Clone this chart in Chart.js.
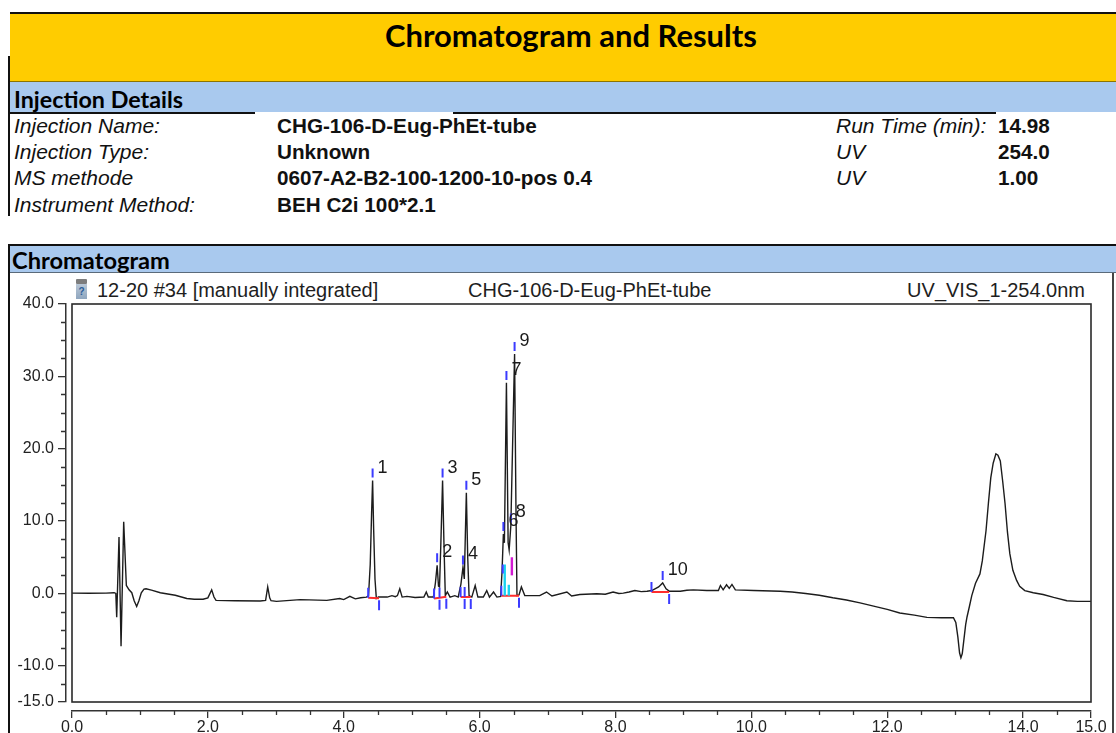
<!DOCTYPE html>
<html>
<head>
<meta charset="utf-8">
<title>Chromatogram and Results</title>
<script src="https://cdn.jsdelivr.net/npm/chart.js@4.4.1/dist/chart.umd.min.js"></script>
<style>
  html, body { margin: 0; padding: 0; background: #fff; }
  body { width: 1116px; height: 733px; position: relative; overflow: hidden;
         font-family: "Liberation Sans", Arial, sans-serif; color: #111; }
  .abs { position: absolute; }
  .txt { position: absolute; white-space: nowrap; }
  .head { font-family: Lato, "Open Sans", sans-serif; font-weight: 700; color: #000; }
  .lab { font-style: italic; font-size: 21px; line-height: 24px; }
  .val { font-weight: 700; font-size: 20.7px; line-height: 24px; }
  .ctitle { font-size: 20px; line-height: 24px; color: #1e1e1e; }
  #chartBox { position: absolute; left: 0; top: 280px; width: 1116px; height: 453px; }
</style>
</head>
<body>
  <!-- report header -->
  <div class="abs" style="left:10px;top:12px;width:1106px;height:2px;background:#111;"></div>
  <div class="abs" style="left:10px;top:14px;width:1106px;height:67px;background:#ffcc00;"></div>
  <div class="abs" style="left:10px;top:81px;width:1106px;height:1px;background:#8c7400;"></div>
  <div class="abs" style="left:10px;top:82px;width:1106px;height:30px;background:#a9c9ee;"></div>
  <div class="abs" style="left:8px;top:56px;width:2px;height:160px;background:#111;"></div>
  <div class="abs" style="left:10px;top:112px;width:245px;height:2px;background:#111;"></div>
  <div class="abs" style="left:453px;top:112px;width:543px;height:2px;background:#111;"></div>

  <div class="txt head fit" data-w="372" style="left:385px;top:19px;font-size:28px;line-height:32px;">Chromatogram and Results</div>
  <div class="txt head fit" data-w="169" style="left:14px;top:86px;font-size:21px;line-height:26px;">Injection Details</div>

  <div class="txt lab" style="left:14px;top:114px;">Injection Name:</div>
  <div class="txt lab" style="left:14px;top:140px;">Injection Type:</div>
  <div class="txt lab" style="left:14px;top:166px;">MS methode</div>
  <div class="txt lab" style="left:14px;top:193px;">Instrument Method:</div>
  <div class="txt val" style="left:277px;top:114px;">CHG-106-D-Eug-PhEt-tube</div>
  <div class="txt val" style="left:277px;top:140px;">Unknown</div>
  <div class="txt val" style="left:277px;top:166px;">0607-A2-B2-100-1200-10-pos 0.4</div>
  <div class="txt val" style="left:277px;top:193px;">BEH C2i 100*2.1</div>
  <div class="txt lab" style="left:836px;top:114px;">Run Time (min):</div>
  <div class="txt lab" style="left:836px;top:140px;">UV</div>
  <div class="txt lab" style="left:836px;top:166px;">UV</div>
  <div class="txt val" style="left:998px;top:114px;">14.98</div>
  <div class="txt val" style="left:998px;top:140px;">254.0</div>
  <div class="txt val" style="left:998px;top:166px;">1.00</div>

  <!-- chromatogram section -->
  <div class="abs" style="left:8px;top:244px;width:1108px;height:2px;background:#111;"></div>
  <div class="abs" style="left:10px;top:246px;width:1106px;height:26px;background:#a9c9ee;"></div>
  <div class="abs" style="left:10px;top:272px;width:1106px;height:1px;background:#5a6a7a;"></div>
  <div class="abs" style="left:8px;top:244px;width:2px;height:489px;background:#111;"></div>
  <div class="abs" style="left:1112px;top:273px;width:2px;height:460px;background:#444;"></div>
  <div class="txt head fit" data-w="158" style="left:12px;top:247px;font-size:21px;line-height:26px;">Chromatogram</div>

  <div class="abs" style="left:76px;top:279px;width:11px;height:20px;">
    <div style="height:5px;background:#7d7d7d;border-radius:1px;"></div>
    <div style="height:15px;background:linear-gradient(#b9c7d6,#8fa6bf);color:#2a5d9a;font:bold 10px 'Liberation Sans';text-align:center;line-height:15px;">?</div>
  </div>
  <div class="txt ctitle" style="left:97px;top:278px;">12-20 #34 [manually integrated]</div>
  <div class="txt ctitle" style="left:468px;top:278px;">CHG-106-D-Eug-PhEt-tube</div>
  <div class="txt ctitle" style="right:31px;top:278px;">UV_VIS_1-254.0nm</div>

  <div id="chartBox"><canvas id="chrom" width="1116" height="453"></canvas></div>

<script>
// Detector trace: retention time (min) and absorbance (mAU)
const retentionTimes = [
  0.00, 0.25, 0.50, 0.62, 0.645, 0.658, 0.692, 0.722, 0.761, 0.80,
  0.84, 0.88, 0.915, 0.952, 0.985, 1.02, 1.06, 1.09, 1.17, 1.30,
  1.52, 1.69, 1.80, 1.93, 2.00, 2.056, 2.09, 2.12, 2.40, 2.77,
  2.85, 2.881, 2.91, 2.93, 3.01, 3.36, 3.75, 3.94, 4.00, 4.09,
  4.17, 4.25, 4.335, 4.365, 4.39, 4.41, 4.425, 4.44, 4.46, 4.48,
  4.51, 4.64, 4.71, 4.76, 4.79, 4.825, 4.86, 4.93, 5.05, 5.18,
  5.215, 5.245, 5.32, 5.35, 5.375, 5.395, 5.41, 5.43, 5.455, 5.475,
  5.495, 5.525, 5.565, 5.635, 5.685, 5.725, 5.755, 5.775, 5.79, 5.805,
  5.825, 5.845, 5.885, 5.935, 5.975, 6.055, 6.105, 6.145, 6.205, 6.255,
  6.31, 6.33, 6.35, 6.365, 6.395, 6.42, 6.435, 6.46, 6.515, 6.535,
  6.55, 6.58, 6.615, 6.665, 6.885, 6.985, 7.065, 7.285, 7.355, 7.475,
  7.725, 7.85, 7.965, 8.05, 8.115, 8.20, 8.285, 8.38, 8.465, 8.535,
  8.635, 8.695, 8.745, 8.795, 8.955, 9.05, 9.145, 9.345, 9.515, 9.545,
  9.585, 9.635, 9.675, 9.715, 9.765, 10.035, 10.425, 10.60, 10.80, 11.00,
  11.20, 11.40, 11.60, 11.80, 12.00, 12.185, 12.40, 12.585, 12.80, 12.975,
  13.01, 13.04, 13.065, 13.085, 13.105, 13.13, 13.155, 13.175, 13.21, 13.245,
  13.30, 13.365, 13.40, 13.455, 13.49, 13.525, 13.56, 13.60, 13.63, 13.665,
  13.70, 13.735, 13.77, 13.805, 13.85, 13.905, 13.95, 14.025, 14.15, 14.295,
  14.45, 14.645, 14.80, 15.00
];
const absorbance = [
  0.05, 0.02, 0.05, 0.10, 0.00, -3.3, 7.8, -7.3, 9.9, 1.1,
  0.5, 0.1, -1.0, -1.8, -1.0, 0.1, 0.6, 0.65, 0.45, 0.1,
  -0.25, -0.7, -0.8, -0.8, -0.6, 0.5, -0.5, -0.95, -1.0, -1.05,
  -0.95, 0.9, -0.6, -1.0, -1.1, -0.85, -0.95, -0.7, -0.85, -0.4,
  -0.75, -0.6, -0.5, -0.3, 4.0, 11.0, 15.6, 9.0, 2.0, -0.7,
  -0.5, -0.5, -0.3, -0.45, -0.3, 0.65, -0.5, -0.4, -0.55, -0.5,
  0.2, -0.5, -0.5, 1.5, 3.9, 1.0, 0.9, 7.0, 15.6, 7.0,
  -0.3, 0.2, -0.5, -0.3, -0.5, 1.3, 3.6, 2.0, 8.0, 13.9,
  5.0, -0.3, -0.5, 1.1, -0.5, -0.5, 0.4, -0.5, 0.2, -0.5,
  -0.4, 3.0, 8.2, 7.0, 29.1, 7.0, 6.0, 9.4, 33.1, 12.0,
  -0.3, -0.2, 0.9, -0.3, -0.3, 0.2, -0.35, 0.2, -0.35, -0.15,
  -0.05, -0.1, 0.2, 0.0, 0.05, 0.2, 0.4, 0.25, 0.3, 0.4,
  0.9, 1.45, 0.65, 0.3, 0.3, 0.45, 0.5, 0.4, 0.4, 1.1,
  0.5, 1.2, 0.7, 1.25, 0.5, 0.4, 0.3, 0.2, 0.0, -0.25,
  -0.6, -0.9, -1.3, -1.75, -2.2, -2.7, -3.0, -3.3, -3.35, -3.35,
  -4.0, -6.0, -8.2, -8.9, -8.3, -6.3, -4.3, -3.25, -1.8, -0.3,
  1.4, 2.7, 4.5, 8.7, 12.5, 16.0, 18.0, 19.3, 19.1, 18.3,
  15.5, 12.4, 8.5, 5.5, 3.2, 1.8, 1.0, 0.4, 0.1, -0.15,
  -0.55, -1.0, -1.1, -1.1
];

// Integrated peaks
const peakNumbers     = [1, 2, 3, 4, 5, 6, 7, 8, 9, 10];
const peakApexTimes   = [4.425, 5.375, 5.455, 5.755, 5.805, 6.35, 6.395, 6.46, 6.515, 8.695];
const peakApexHeights = [15.6, 3.9, 15.6, 3.6, 13.9, 8.2, 29.1, 9.4, 33.1, 1.45];
const peakStartTimes  = [4.36, 5.33, 5.41, 5.72, 5.78, 6.32, 6.37, 6.43, 6.475, 8.53];
const peakEndTimes    = [4.52, 5.41, 5.51, 5.78, 5.87, 6.37, 6.43, 6.475, 6.58, 8.79];
const peakBaseStart   = [-0.6, -0.7, -0.6, -0.5, -0.5, -0.3, -0.3, -0.3, -0.3, 0.2];
const peakBaseEnd     = [-0.65, -0.6, -0.45, -0.5, -0.5, -0.3, -0.3, -0.3, -0.3, 0.2];
// peaks of the 6-9 cluster are separated by drop lines instead of delimiter ticks
const dropSplitPeaks  = [6, 7, 8, 9];

// Drop lines inside the 6-9 cluster
const splitTimes = [6.37, 6.43, 6.475];
const splitLow   = [-0.3, -0.3, 2.5];
const splitHigh  = [4.0, 1.2, 5.0];

// Axis ticks
const xTickValues = [0, 2, 4, 6, 8, 10, 12, 14, 15];
const yTickValues = [-15, -10, 0, 10, 20, 30, 40];
const xMinorStep = 0.5;
const yMinorStep = 2.5;

// Size the Calibri-style headings to their column widths
document.querySelectorAll('.fit').forEach(el => {
  const target = parseFloat(el.dataset.w);
  const w = el.getBoundingClientRect().width;
  const fs = parseFloat(getComputedStyle(el).fontSize);
  if (w > 0) el.style.fontSize = (fs * target / w).toFixed(2) + 'px';
});

// Detached axes: y axis sits a little left of the plot frame, x axis a little below it
const detachedAxes = {
  id: 'detachedAxes',
  afterLayout(chart) {
    const x = chart.scales.x, y = chart.scales.y;
    y.left -= 6; y.right -= 6;
    x.top += 9; x.bottom += 9;
  }
};

// Plot frame around the data area
const plotFrame = {
  id: 'plotFrame',
  afterDatasetsDraw(chart) {
    const { ctx, chartArea: a } = chart;
    ctx.save();
    ctx.strokeStyle = '#2a2a2a';
    ctx.lineWidth = 1.6;
    ctx.strokeRect(a.left, a.top, a.right - a.left, a.bottom - a.top);
    ctx.restore();
  }
};

// Short minor tick marks between the labelled ticks
const minorTicks = {
  id: 'minorTicks',
  afterDraw(chart) {
    const { ctx } = chart;
    const x = chart.scales.x, y = chart.scales.y;
    ctx.save();
    ctx.strokeStyle = '#333';
    ctx.lineWidth = 1.3;
    ctx.beginPath();
    for (let v = x.min; v <= x.max + 1e-9; v += xMinorStep) {
      if (xTickValues.some(t => Math.abs(t - v) < 1e-6)) continue;
      const px = Math.round(x.getPixelForValue(v)) + 0.5;
      ctx.moveTo(px, x.top);
      ctx.lineTo(px, x.top + 4);
    }
    for (let v = y.min; v <= y.max + 1e-9; v += yMinorStep) {
      if (yTickValues.some(t => Math.abs(t - v) < 1e-6)) continue;
      const py = Math.round(y.getPixelForValue(v)) + 0.5;
      ctx.moveTo(y.right, py);
      ctx.lineTo(y.right - 5, py);
    }
    ctx.stroke();
    ctx.restore();
  }
};

// Integration marks: baselines, drop lines, delimiters, apex ticks and peak numbers
const peakMarks = {
  id: 'peakMarks',
  afterDatasetsDraw(chart) {
    const { ctx } = chart;
    const xs = chart.scales.x, ys = chart.scales.y;
    ctx.save();
    ctx.lineCap = 'butt';

    ctx.strokeStyle = '#ff2d2d';
    ctx.lineWidth = 2;
    ctx.beginPath();
    peakNumbers.forEach((n, i) => {
      ctx.moveTo(xs.getPixelForValue(peakStartTimes[i]), ys.getPixelForValue(peakBaseStart[i]));
      ctx.lineTo(xs.getPixelForValue(peakEndTimes[i]), ys.getPixelForValue(peakBaseEnd[i]));
    });
    ctx.stroke();

    const splitColors = ['#19d2f0', '#19d2f0', '#d21ad2'];
    ctx.lineWidth = 2.4;
    splitTimes.forEach((t, i) => {
      ctx.strokeStyle = splitColors[i];
      ctx.beginPath();
      const px = xs.getPixelForValue(t);
      ctx.moveTo(px, ys.getPixelForValue(splitLow[i]));
      ctx.lineTo(px, ys.getPixelForValue(splitHigh[i]));
      ctx.stroke();
    });

    const inCluster = n => dropSplitPeaks.includes(n);
    ctx.strokeStyle = '#3b3bff';
    ctx.lineWidth = 2;
    ctx.beginPath();
    peakNumbers.forEach((n, i) => {
      const innerStart = inCluster(n) && i > 0 && inCluster(peakNumbers[i - 1]);
      const innerEnd = inCluster(n) && i < peakNumbers.length - 1 && inCluster(peakNumbers[i + 1]);
      if (!innerStart) {
        const sx = xs.getPixelForValue(peakStartTimes[i]);
        const sy = ys.getPixelForValue(peakBaseStart[i]);
        ctx.moveTo(sx, sy); ctx.lineTo(sx, sy - 10);
      }
      if (!innerEnd) {
        const ex = xs.getPixelForValue(peakEndTimes[i]);
        const ey = ys.getPixelForValue(peakBaseEnd[i]);
        ctx.moveTo(ex, ey + 2); ctx.lineTo(ex, ey + 12);
      }
      const ax = xs.getPixelForValue(peakApexTimes[i]);
      const ay = ys.getPixelForValue(peakApexHeights[i]);
      ctx.moveTo(ax, ay - 3); ctx.lineTo(ax, ay - 12);
    });
    splitTimes.forEach((t, i) => {
      if (i > 0) return;
      const px = xs.getPixelForValue(t) - 2;
      ctx.moveTo(px, ys.getPixelForValue(splitHigh[i]));
      ctx.lineTo(px, ys.getPixelForValue(splitHigh[i]) + 9);
    });
    ctx.stroke();

    ctx.fillStyle = '#1a1a1a';
    ctx.font = '18px "Liberation Sans", Arial, sans-serif';
    ctx.textBaseline = 'middle';
    ctx.textAlign = 'left';
    peakNumbers.forEach((n, i) => {
      const ax = xs.getPixelForValue(peakApexTimes[i]);
      const ay = ys.getPixelForValue(peakApexHeights[i]);
      ctx.fillText(String(n), ax + 5, ay - 13);
    });
    ctx.restore();
  }
};

const tickFont = { family: '"Liberation Sans", Arial, sans-serif', size: 16 };

new Chart(document.getElementById('chrom'), {
  type: 'line',
  data: {
    datasets: [{
      data: retentionTimes.map((t, i) => ({ x: t, y: absorbance[i] })),
      borderColor: '#1c1c1c',
      borderWidth: 1.4,
      pointRadius: 0,
      tension: 0,
      fill: false
    }]
  },
  options: {
    responsive: false,
    animation: false,
    devicePixelRatio: 1,
    events: [],
    layout: { padding: { left: 0, right: 25, top: 24, bottom: 0 } },
    plugins: { legend: { display: false }, tooltip: { enabled: false }, title: { display: false } },
    scales: {
      x: {
        type: 'linear', position: 'bottom', min: 0, max: 15,
        afterFit(s) { s.height = 31; },
        afterBuildTicks(s) { s.ticks = xTickValues.map(v => ({ value: v })); },
        ticks: { autoSkip: false, maxRotation: 0, padding: 0, color: '#222', font: tickFont,
                 callback: v => Number(v).toFixed(1) },
        grid: { drawOnChartArea: false, drawTicks: true, tickLength: 7, color: '#333', lineWidth: 1.3 },
        border: { display: true, color: '#333', width: 1.5 }
      },
      y: {
        type: 'linear', position: 'left', min: -15, max: 40,
        afterFit(s) { s.width = 72; },
        afterBuildTicks(s) { s.ticks = yTickValues.map(v => ({ value: v })); },
        ticks: { autoSkip: false, padding: 4, color: '#222', font: tickFont,
                 callback: v => Number(v).toFixed(1) },
        grid: { drawOnChartArea: false, drawTicks: true, tickLength: 8, color: '#333', lineWidth: 1.3 },
        border: { display: true, color: '#333', width: 1.5 }
      }
    }
  },
  plugins: [detachedAxes, plotFrame, minorTicks, peakMarks]
});
</script>
</body>
</html>
